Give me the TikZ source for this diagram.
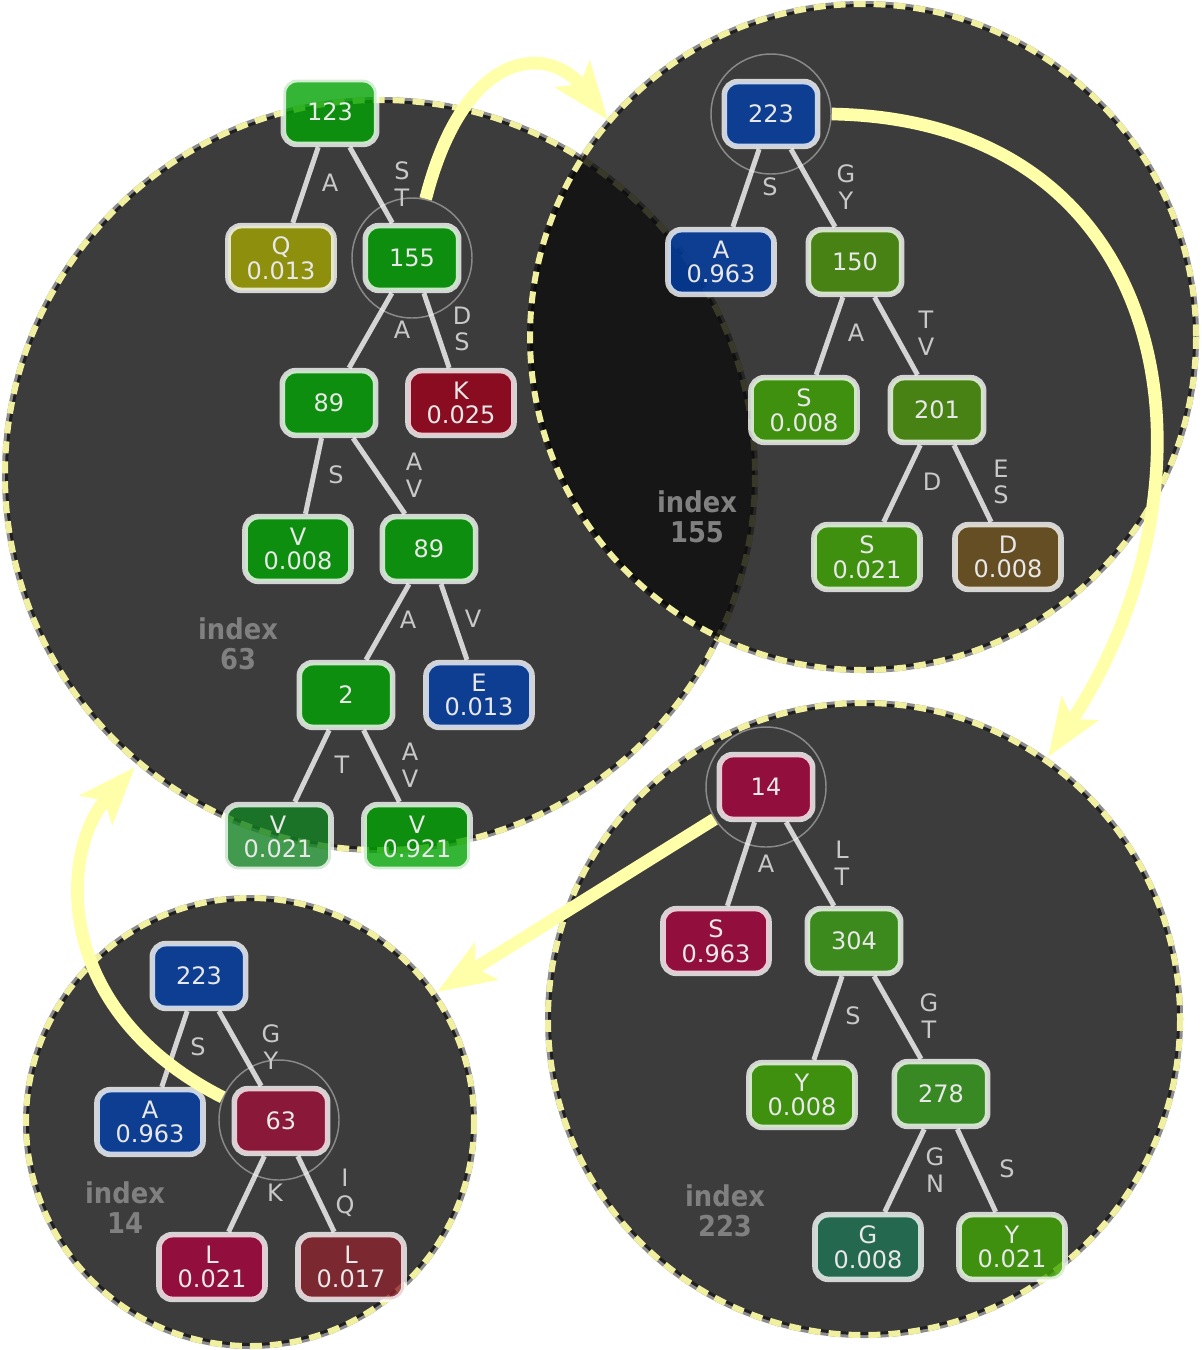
\documentclass[tikz,border=0pt]{standalone}
\usepackage{fontspec}
\setmainfont{DejaVu Sans}
\newfontfamily\idxfamily{DejaVu Sans}[FakeStretch=0.9]
\usepackage{tikz}
\usetikzlibrary{arrows.meta, positioning}

\newcommand{\treefont}{\fontsize{18}{18.5}\selectfont}
\newcommand{\lblfont}{\fontsize{18}{20}\selectfont}
\newcommand{\idxfont}{\idxfamily\bfseries\fontsize{21.5}{22.5}\selectfont}

\definecolor{discgray}{RGB}{13,13,13}
\definecolor{leafgreen}{RGB}{3,163,3}
\definecolor{mossgreen}{RGB}{19,129,35}
\definecolor{olive}{RGB}{164,164,3}
\definecolor{wine}{RGB}{158,0,25}
\definecolor{deepblue}{RGB}{3,63,168}
\definecolor{olivegreen}{RGB}{75,148,10}
\definecolor{grassgreen}{RGB}{64,166,3}
\definecolor{umber}{RGB}{113,83,30}
\definecolor{crimson}{RGB}{168,3,60}
\definecolor{fern}{RGB}{60,158,23}
\definecolor{fernb}{RGB}{55,155,30}
\definecolor{tealgreen}{RGB}{30,115,85}
\definecolor{rosewood}{RGB}{158,15,55}
\definecolor{brick}{RGB}{141,35,45}
\definecolor{lblgray}{RGB}{200,200,200}
\definecolor{idxgray}{RGB}{128,128,128}
\definecolor{hopyellow}{RGB}{255,255,170}
\definecolor{rimyellow}{RGB}{240,240,160}

\begin{document}
\begin{tikzpicture}[x=0.75pt, y=-0.75pt,
    disc/.style={fill=discgray, fill opacity=0.805},
    rim/.style={draw=black, draw opacity=0.45, line width=4.5pt},
    rimdash/.style={draw=rimyellow, line width=4.5pt, dash pattern=on 9pt off 6pt},
    tnode/.style={rectangle, rounded corners=10pt, draw=white, draw opacity=0.78, line width=4.2pt,
        fill opacity=0.8, text opacity=1, text={rgb,255:red,232;green,232;blue,232},
        minimum width=70pt, minimum height=48.5pt, inner xsep=14pt, inner ysep=7pt,
        align=center, font=\treefont},
    link/.style={draw=white, draw opacity=0.78, line width=3.75pt},
    lbl/.style={text=lblgray, font=\lblfont, align=center, inner sep=0pt},
    idx/.style={text=idxgray, font=\idxfont, align=center, inner sep=0pt},
    ring/.style={circle, draw=white, draw opacity=0.4, line width=1.1pt, minimum size=90pt, inner sep=0pt},
    hop/.style={draw=hopyellow, line width=9.5pt, -{Stealth[length=43pt, width=32pt, inset=9pt]}}]

    \fill[white] (0,0) rectangle (1202,1350);
    \useasboundingbox (0,0) rectangle (1202,1350);

    % Index 63
    \fill[disc] (380,475) circle[radius=375];
    \draw[rim] (380,475) circle[radius=375];
    \draw[rimdash] (380,475) circle[radius=375];

    \node[tnode, fill=leafgreen] (n123) at (330,112) {123};
    \node[tnode, fill=olive] (nQ) at (281,258) {Q\\0.013};
    \node[tnode, fill=leafgreen] (n155) at (412,258) {155};
    \node[tnode, fill=leafgreen] (n89a) at (329,403) {89};
    \node[tnode, fill=wine] (nK) at (461,403) {K\\0.025};
    \node[tnode, fill=leafgreen] (nV8) at (298,549) {V\\0.008};
    \node[tnode, fill=leafgreen] (n89b) at (429,549) {89};
    \node[tnode, fill=leafgreen] (n2) at (346,695) {2};
    \node[tnode, fill=deepblue] (nE) at (479,695) {E\\0.013};
    \node[tnode, fill=mossgreen] (nV21) at (278,837) {V\\0.021};
    \node[tnode, fill=leafgreen] (nV921) at (417,837) {V\\0.921};
    \node[ring] (r155) at (412,258) {};

    \draw[link] (n123) -- (nQ);
    \draw[link] (n123) -- (n155);
    \draw[link] (n155) -- (n89a);
    \draw[link] (n155) -- (nK);
    \draw[link] (n89a) -- (nV8);
    \draw[link] (n89a) -- (n89b);
    \draw[link] (n89b) -- (n2);
    \draw[link] (n89b) -- (nE);
    \draw[link] (n2) -- (nV21);
    \draw[link] (n2) -- (nV921);

    \node[lbl] (la1) at (330,183) {A};
    \node[lbl] (la2) at (402,184) {S\\T};
    \node[lbl] (la3) at (402,330) {A};
    \node[lbl] (la4) at (462,329) {D\\S};
    \node[lbl] (la5) at (336,475) {S};
    \node[lbl] (la6) at (414,475) {A\\V};
    \node[lbl] (la7) at (408,620) {A};
    \node[lbl] (la8) at (473,619) {V};
    \node[lbl] (la9) at (342,765) {T};
    \node[lbl] (la10) at (410,765) {A\\V};
    \node[idx] (i63) at (238,644) {index\\63};

    % Index 155
    \fill[disc] (863,337) circle[radius=333];
    \draw[rim] (863,337) circle[radius=333];
    \draw[rimdash] (863,337) circle[radius=333];

    \node[tnode, fill=deepblue] (m223) at (771,114) {223};
    \node[tnode, fill=deepblue] (mA) at (721,262) {A\\0.963};
    \node[tnode, fill=olivegreen] (m150) at (855,262) {150};
    \node[tnode, fill=grassgreen] (mS8) at (804,410) {S\\0.008};
    \node[tnode, fill=olivegreen] (m201) at (937,410) {201};
    \node[tnode, fill=grassgreen] (mS21) at (867,557) {S\\0.021};
    \node[tnode, fill=umber] (mD8) at (1008,557) {D\\0.008};
    \node[ring] (r223) at (771,114) {};

    \draw[link] (m223) -- (mA);
    \draw[link] (m223) -- (m150);
    \draw[link] (m150) -- (mS8);
    \draw[link] (m150) -- (m201);
    \draw[link] (m201) -- (mS21);
    \draw[link] (m201) -- (mD8);

    \node[lbl] (lb1) at (770,187) {S};
    \node[lbl] (lb2) at (846,187) {G\\Y};
    \node[lbl] (lb3) at (856,333) {A};
    \node[lbl] (lb4) at (926,333) {T\\V};
    \node[lbl] (lb5) at (932,482) {D};
    \node[lbl] (lb6) at (1001,482) {E\\S};
    \node[idx] (i155) at (697,517) {index\\155};

    % Index 223
    \fill[disc] (864,1019) circle[radius=316];
    \draw[rim] (864,1019) circle[radius=316];
    \draw[rimdash] (864,1019) circle[radius=316];

    \node[tnode, fill=crimson] (p14) at (766,787) {14};
    \node[tnode, fill=crimson] (pS) at (716,941) {S\\0.963};
    \node[tnode, fill=fern] (p304) at (854,941) {304};
    \node[tnode, fill=grassgreen] (pY8) at (802,1095) {Y\\0.008};
    \node[tnode, fill=fernb] (p278) at (941,1094) {278};
    \node[tnode, fill=tealgreen] (pG) at (868,1247) {G\\0.008};
    \node[tnode, fill=grassgreen] (pY21) at (1012,1247) {Y\\0.021};
    \node[ring] (r14) at (766,787) {};

    \draw[link] (p14) -- (pS);
    \draw[link] (p14) -- (p304);
    \draw[link] (p304) -- (pY8);
    \draw[link] (p304) -- (p278);
    \draw[link] (p278) -- (pG);
    \draw[link] (p278) -- (pY21);

    \node[lbl] (lc1) at (766,864) {A};
    \node[lbl] (lc2) at (842,863) {L\\T};
    \node[lbl] (lc3) at (853,1016) {S};
    \node[lbl] (lc4) at (929,1016) {G\\T};
    \node[lbl] (lc5) at (935,1170) {G\\N};
    \node[lbl] (lc6) at (1007,1169) {S};
    \node[idx] (i223) at (725,1211) {index\\223};

    % Index 14
    \fill[disc] (250,1122) circle[radius=224];
    \draw[rim] (250,1122) circle[radius=224];
    \draw[rimdash] (250,1122) circle[radius=224];

    \node[tnode, fill=deepblue] (q223) at (199,976) {223};
    \node[tnode, fill=deepblue] (qA) at (150,1122) {A\\0.963};
    \node[tnode, fill=rosewood] (q63) at (281,1121) {63};
    \node[tnode, fill=crimson] (qL21) at (212,1267) {L\\0.021};
    \node[tnode, fill=brick] (qL17) at (351,1267) {L\\0.017};
    \node[ring] (r63) at (279,1120) {};

    \draw[link] (q223) -- (qA);
    \draw[link] (q223) -- (q63);
    \draw[link] (q63) -- (qL21);
    \draw[link] (q63) -- (qL17);

    \node[lbl] (ld1) at (198,1047) {S};
    \node[lbl] (ld2) at (271,1047) {G\\Y};
    \node[lbl] (ld3) at (275,1193) {K};
    \node[lbl] (ld4) at (345,1193) {I\\Q};
    \node[idx] (i14) at (125,1208) {index\\14};

    % Hops between indices
    \coordinate (t1) at (608,120);
    \coordinate (t2) at (1048,757);
    \coordinate (t3) at (437,992);
    \coordinate (t4) at (135,767);
    \draw[hop] (r155.77) .. controls (465,45) and (550,45) .. (t1);
    \draw[hop] (r223.east) .. controls (1180,120) and (1230,480) .. (t2);
    \draw[hop] (r14) -- (t3);
    \draw[hop] (r63.158) .. controls (50,1010) and (60,850) .. (t4);
\end{tikzpicture}
\end{document}
